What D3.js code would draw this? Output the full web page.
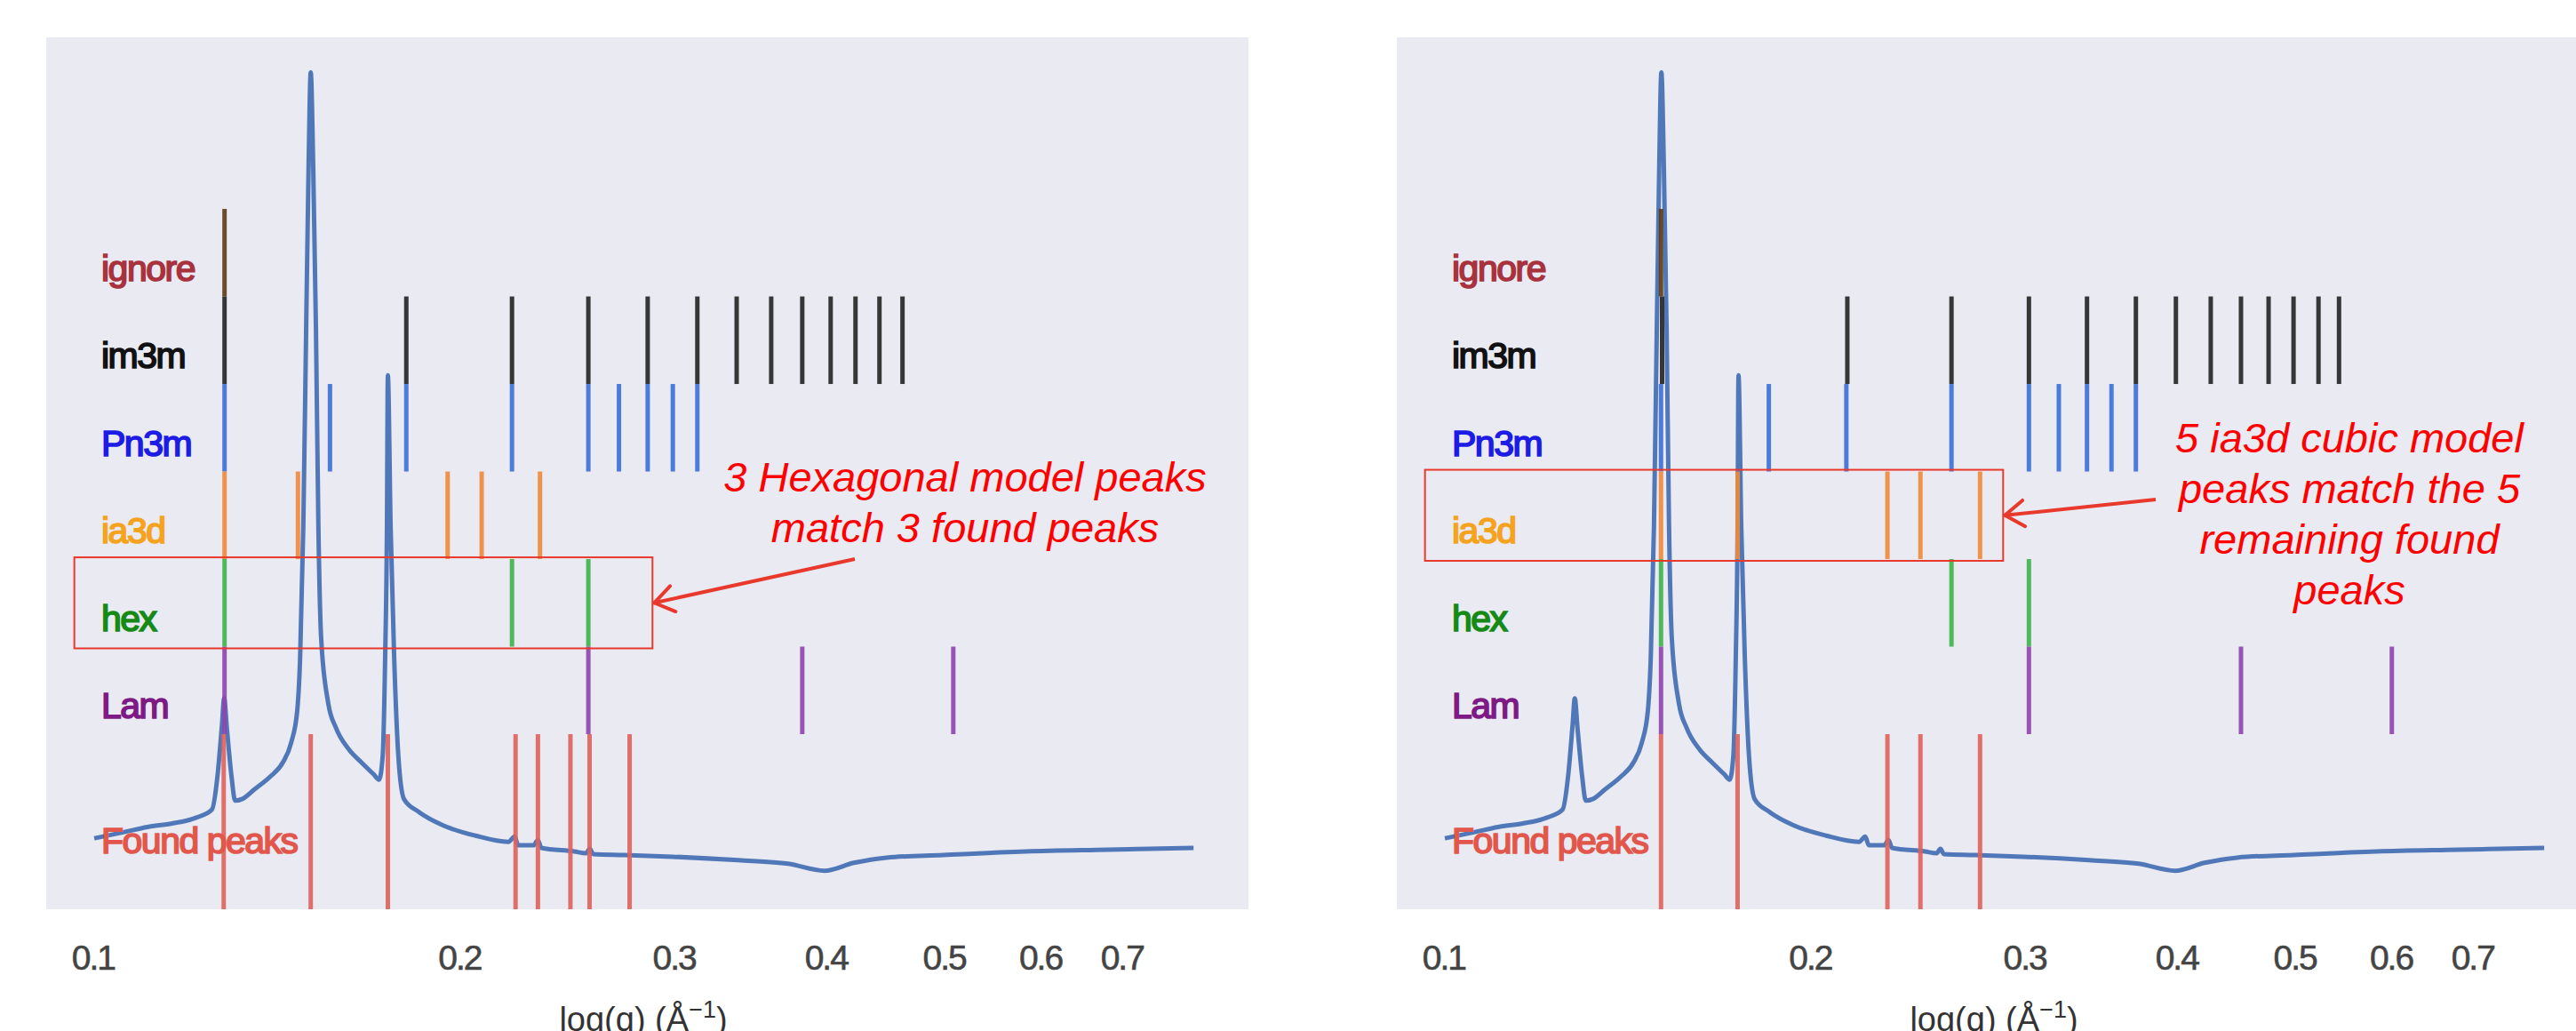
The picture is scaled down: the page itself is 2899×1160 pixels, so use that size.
<!DOCTYPE html>
<html>
<head>
<meta charset="utf-8">
<script src="https://cdn.jsdelivr.net/npm/d3@7/dist/d3.min.js"></script>
<style>
  body { margin: 0; background: #fff; }
  svg { display: block; }
  text { font-family: "Liberation Sans", Arial, sans-serif; }
</style>
</head>
<body>
<div id="chart"></div>
<script>
// row names, bottom row last
var rowNames = ["ignore", "im3m", "Pn3m", "ia3d", "hex", "Lam", "Found peaks"];

// measured scattering curve, q (1/A) and log intensity (arbitrary units)
var curveQ = [0.1002, 0.1059, 0.1108, 0.1161, 0.1217, 0.1252, 0.1265, 0.1276, 0.1281, 0.1288,
  0.1299, 0.1308, 0.1326, 0.1357, 0.1399, 0.1432, 0.1454, 0.1471, 0.1479, 0.1488,
  0.1496, 0.1503, 0.1509, 0.1516, 0.1524, 0.1531, 0.1539, 0.1560, 0.1583, 0.1621,
  0.1660, 0.1700, 0.1717, 0.1729, 0.1737, 0.1743, 0.1746, 0.1755, 0.1767, 0.1781,
  0.1800, 0.1852, 0.1937, 0.2061, 0.2193, 0.2219, 0.2234, 0.2299, 0.2319, 0.2334,
  0.2484, 0.2540, 0.2558, 0.2575, 0.2728, 0.2992, 0.3388, 0.3722, 0.3987, 0.4214,
  0.4483, 0.4992, 0.5834, 0.6809, 0.8013];
var curveI = [0.81, 0.88, 0.94, 0.98, 1.05, 1.14, 1.52, 2.12, 2.41, 2.05,
  1.52, 1.24, 1.26, 1.37, 1.52, 1.68, 1.90, 2.27, 2.87, 4.38,
  6.63, 8.51, 9.56, 8.51, 6.63, 4.38, 3.10, 2.35, 2.07, 1.83,
  1.68, 1.54, 1.48, 1.75, 2.87, 4.38, 6.10, 4.38, 2.87, 1.75,
  1.26, 1.11, 0.96, 0.84, 0.77, 0.83, 0.73, 0.73, 0.79, 0.70,
  0.66, 0.64, 0.69, 0.63, 0.62, 0.60, 0.56, 0.52, 0.44, 0.53,
  0.59, 0.62, 0.66, 0.68, 0.70];

// left panel: model peaks indexed on the 0.128 peak
var leftIgnore = [0.1282];
var leftIm3m = [0.1282, 0.1808, 0.2208, 0.2551, 0.2854, 0.3135, 0.3377, 0.3605, 0.3823, 0.4034, 0.4228, 0.4424, 0.4621];
var leftPn3m = [0.1282, 0.1565, 0.1808, 0.2208, 0.2551, 0.2703, 0.2854, 0.2993, 0.3135];
var leftIa3d = [0.1282, 0.1473, 0.1955, 0.2085, 0.2328];
var leftHex = [0.1282, 0.2208, 0.2551];
var leftLam = [0.1282, 0.2551, 0.3823, 0.5087];
var leftFound = [0.1280, 0.1509, 0.1746, 0.2223, 0.2319, 0.2466, 0.2557, 0.2758];

// right panel: model peaks indexed on the 0.151 peak
var rightIgnore = [0.1508];
var rightIm3m = [0.1511, 0.2145, 0.2612, 0.3024, 0.3375, 0.3702, 0.3993, 0.4265, 0.4516, 0.4758, 0.4988, 0.5229, 0.5436];
var rightPn3m = [0.1508, 0.1849, 0.2141, 0.2612, 0.3024, 0.3200, 0.3375, 0.3535, 0.3702];
var rightIa3d = [0.1508, 0.1743, 0.2314, 0.2463, 0.2757];
var rightHex = [0.1508, 0.2612, 0.3024];
var rightLam = [0.1508, 0.3024, 0.4516, 0.6007];
var rightFound = [0.1508, 0.1743, 0.2314, 0.2463, 0.2757];

var tickValues = [0.1, 0.2, 0.3, 0.4, 0.5, 0.6, 0.7];

var leftNote = ["3 Hexagonal model peaks", "match 3 found peaks"];
var rightNote = ["5 ia3d cubic model", "peaks match the 5", "remaining found", "peaks"];

// styles
var lineColors = ["#5e3b12", "#222222", "#3c6fd8", "#f0883a", "#3cb44a", "#8e44ad", "#e0625a"];
var labelColors = ["#a8323e", "#111111", "#1c1ce6", "#f5a31f", "#168a16", "#7d1a85", "#e2574c"];

var W = 2899, H = 1160;
var panelTop = 42, panelBottom = 1023, panelWidth = 1353;

var svg = d3.select("#chart").append("svg")
  .attr("width", W)
  .attr("height", H);

var y = d3.scaleLinear().domain([0, 9.96]).range([panelBottom, panelTop]);

// row extents in y units: Found peaks spans two units
function rowLo(i) { return i === 6 ? 0 : 8 - i - 1; }
function rowHi(i) { return i === 6 ? 2 : 8 - i; }

function drawPanel(left, peaks, note, noteCfg) {
  var g = svg.append("g");
  var x = d3.scaleLog().domain([0.0915, 0.889]).range([left, left + panelWidth]);

  g.append("rect")
    .attr("x", left)
    .attr("y", panelTop)
    .attr("width", panelWidth)
    .attr("height", panelBottom - panelTop)
    .attr("fill", "#eaeaf2");

  // curve
  var pts = curveQ.map(function (q, i) { return [q, curveI[i]]; });
  var line = d3.line()
    .x(function (d) { return x(d[0]); })
    .y(function (d) { return y(d[1]); })
    .curve(d3.curveMonotoneX);

  g.append("path")
    .datum(pts)
    .attr("d", line)
    .attr("fill", "none")
    .attr("stroke", "#5078b8")
    .attr("stroke-width", 5)
    .attr("stroke-linejoin", "round");

  // model / found peak markers
  peaks.forEach(function (arr, i) {
    g.selectAll(".pk" + i)
      .data(arr)
      .enter().append("line")
      .attr("class", "pk" + i)
      .attr("x1", function (d) { return x(d); })
      .attr("x2", function (d) { return x(d); })
      .attr("y1", y(rowLo(i)))
      .attr("y2", y(rowHi(i)))
      .attr("stroke", lineColors[i])
      .attr("stroke-width", 5)
      .attr("stroke-opacity", 0.9);
  });

  // row labels
  g.selectAll(".rowlab")
    .data(rowNames)
    .enter().append("text")
    .attr("class", "rowlab")
    .attr("x", left + 62)
    .attr("y", function (d, i) { return y(i === 6 ? 0.64 : rowLo(i) + 0.18); })
    .attr("fill", function (d, i) { return labelColors[i]; })
    .attr("stroke", function (d, i) { return labelColors[i]; })
    .attr("stroke-width", 1.7)
    .style("font-size", "41px")
    .style("letter-spacing", "-1.5px")
    .text(function (d) { return d; });

  // ticks
  g.selectAll(".tick")
    .data(tickValues)
    .enter().append("text")
    .attr("class", "tick")
    .attr("x", function (d) { return x(d); })
    .attr("y", 1091)
    .attr("text-anchor", "middle")
    .attr("fill", "#444")
    .attr("stroke", "#444")
    .attr("stroke-width", 0.6)
    .style("font-size", "39px")
    .style("letter-spacing", "-2px")
    .text(function (d) { return d3.format(".1f")(d); });

  var xl = g.append("text")
    .attr("x", left + 672)
    .attr("y", 1160)
    .attr("text-anchor", "middle")
    .attr("fill", "#333")
    .style("font-size", "38px");
  xl.append("tspan").text("log(q) (Å");
  xl.append("tspan").attr("dy", -15).style("font-size", "27px").text("−1");
  xl.append("tspan").attr("dy", 15).text(")");

  // highlight box around the matching row
  var r = noteCfg.row;
  var bx0 = x(0.0965), bx1 = x(0.288);
  var by0 = y(rowHi(r) + 0.02), by1 = y(rowLo(r) - 0.02);
  g.append("rect")
    .attr("x", bx0)
    .attr("y", by0)
    .attr("width", bx1 - bx0)
    .attr("height", by1 - by0)
    .attr("fill", "none")
    .attr("stroke", "#e8392c")
    .attr("stroke-width", 2);

  // arrow from note to box
  var sx = left + noteCfg.ax, sy = noteCfg.ay;
  var tx = bx1 + 2, ty = y((rowLo(r) + rowHi(r)) / 2);
  var ang = Math.atan2(sy - ty, sx - tx);
  var legs = [ang + 0.6, ang - 0.6];
  g.append("line")
    .attr("x1", sx).attr("y1", sy).attr("x2", tx).attr("y2", ty)
    .attr("stroke", "#e8392c").attr("stroke-width", 4);
  legs.forEach(function (a) {
    g.append("line")
      .attr("x1", tx).attr("y1", ty)
      .attr("x2", tx + 26 * Math.cos(a)).attr("y2", ty + 26 * Math.sin(a))
      .attr("stroke", "#e8392c").attr("stroke-width", 4)
      .attr("stroke-linecap", "round");
  });

  g.selectAll(".note")
    .data(note)
    .enter().append("text")
    .attr("class", "note")
    .attr("x", left + noteCfg.cx)
    .attr("y", function (d, i) { return noteCfg.y0 + i * noteCfg.dy; })
    .attr("text-anchor", "middle")
    .attr("fill", "#ff0000")
    .style("font-size", "47px")
    .style("font-style", "italic")
    .text(function (d) { return d; });
}

drawPanel(52,
  [leftIgnore, leftIm3m, leftPn3m, leftIa3d, leftHex, leftLam, leftFound],
  leftNote, {row: 4, cx: 1034, y0: 553, dy: 57, ax: 910, ay: 629});

drawPanel(1572,
  [rightIgnore, rightIm3m, rightPn3m, rightIa3d, rightHex, rightLam, rightFound],
  rightNote, {row: 3, cx: 1072, y0: 509, dy: 57, ax: 854, ay: 562});
</script>
</body>
</html>
